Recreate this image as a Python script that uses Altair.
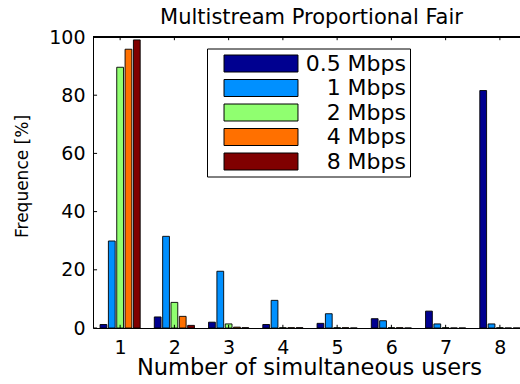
import altair as alt
import pandas as pd

# ---- data ----
users = [1, 2, 3, 4, 5, 6, 7, 8]
series = ["0.5 Mbps", "1 Mbps", "2 Mbps", "4 Mbps", "8 Mbps"]
colors = ["#000090", "#0090FF", "#90FF70", "#FF7000", "#800000"]
v_05 = [1.2, 3.8, 2.0, 1.2, 1.6, 3.2, 5.8, 81.6]
v_1 = [29.9, 31.5, 19.5, 9.5, 4.9, 2.5, 1.4, 1.4]
v_2 = [89.6, 8.8, 1.4, 0.1, 0.1, 0.1, 0.1, 0.1]
v_4 = [95.8, 4.0, 0.3, 0.1, 0.1, 0.1, 0.0, 0.0]
v_8 = [99.0, 0.9, 0.1, 0.1, 0.0, 0.0, 0.0, 0.0]
y_ticks = [0, 20, 40, 60, 80, 100]

rows = []
for si, (name, vals) in enumerate(zip(series, [v_05, v_1, v_2, v_4, v_8])):
    for u, v in zip(users, vals):
        rows.append({"users": u, "series": name, "idx": si, "value": v})
df = pd.DataFrame(rows)
xt = pd.DataFrame({"users": users})
yt = pd.DataFrame({"tick": y_ticks})

FONT = "DejaVu Sans"
xscale = alt.Scale(domain=[0.5, 8.5], range=[0, 434], nice=False, zero=False)
yscale = alt.Scale(domain=[0, 100], nice=False)

bars = alt.Chart(df).transform_calculate(
    x1="datum.users + (datum.idx - 2) * 0.1538 - 0.0625",
    x2="datum.users + (datum.idx - 2) * 0.1538 + 0.0625",
).mark_rect(stroke="black", strokeWidth=0.9).encode(
    x=alt.X("x1:Q", scale=xscale,
            axis=alt.Axis(values=users, title="Number of simultaneous users",
                          ticks=False, grid=False, domainColor="black",
                          labelFontSize=19, labelColor="black",
                          labelBaseline="alphabetic", labelPadding=25,
                          titleFontSize=22.5, titleFontWeight="normal",
                          titleColor="black", titleX=216, titleY=46.5,
                          titleAlign="center", titleBaseline="alphabetic")),
    x2="x2:Q",
    y=alt.Y("value:Q", scale=yscale,
            axis=alt.Axis(values=y_ticks, title="Frequence [%]", ticks=False,
                          grid=False, domainColor="black",
                          labelFontSize=19, labelColor="black",
                          labelPadding=8, labelBaseline="middle",
                          titleFontSize=17, titleFontWeight="normal",
                          titleColor="black", titleX=-71, titleY=139,
                          titleAlign="center", titleBaseline="middle",
                          titleAngle=270)),
    y2=alt.datum(0),
    color=alt.Color("series:N", sort=series,
                    scale=alt.Scale(domain=series, range=colors),
                    legend=alt.Legend(orient="none", legendX=114, legendY=11.5,
                                      title=None, strokeColor="black",
                                      fillColor="white", padding=4,
                                      symbolType="M-4.35,-1H4.35V1H-4.35Z",
                                      symbolSize=289,
                                      symbolStrokeColor="black",
                                      symbolStrokeWidth=1, symbolOpacity=1,
                                      labelFontSize=22, labelColor="black",
                                      labelAlign="right", labelOffset=134,
                                      rowPadding=2.5, symbolOffset=39)),
)

top_line = alt.Chart(xt).mark_rule(color="black", strokeWidth=1).encode(
    y=alt.datum(100)
)

bottom_ticks = alt.Chart(xt).mark_rule(color="black", strokeWidth=1).encode(
    x="users:Q", y=alt.datum(0), y2=alt.datum(1.1)
)
top_ticks = alt.Chart(xt).mark_rule(color="black", strokeWidth=1).encode(
    x="users:Q", y=alt.datum(100), y2=alt.datum(98.9)
)
left_ticks = alt.Chart(yt).mark_rule(color="black", strokeWidth=1).encode(
    y="tick:Q", x=alt.datum(0.5), x2=alt.datum(0.575)
)

chart = alt.layer(bars, top_line, bottom_ticks, top_ticks, left_ticks).properties(
    width=427, height=291,
    title=alt.TitleParams("Multistream Proportional Fair", fontSize=21,
                          fontWeight="normal", color="black", font=FONT,
                          anchor="middle", offset=0, dx=5),
    autosize=alt.AutoSizeParams(type="none"),
    padding={"left": 93, "top": 37, "right": 0, "bottom": 56},
).configure(font=FONT, background="white").configure_view(stroke=None)

chart.save("out.html", embed_options={"renderer": "svg", "actions": False})
